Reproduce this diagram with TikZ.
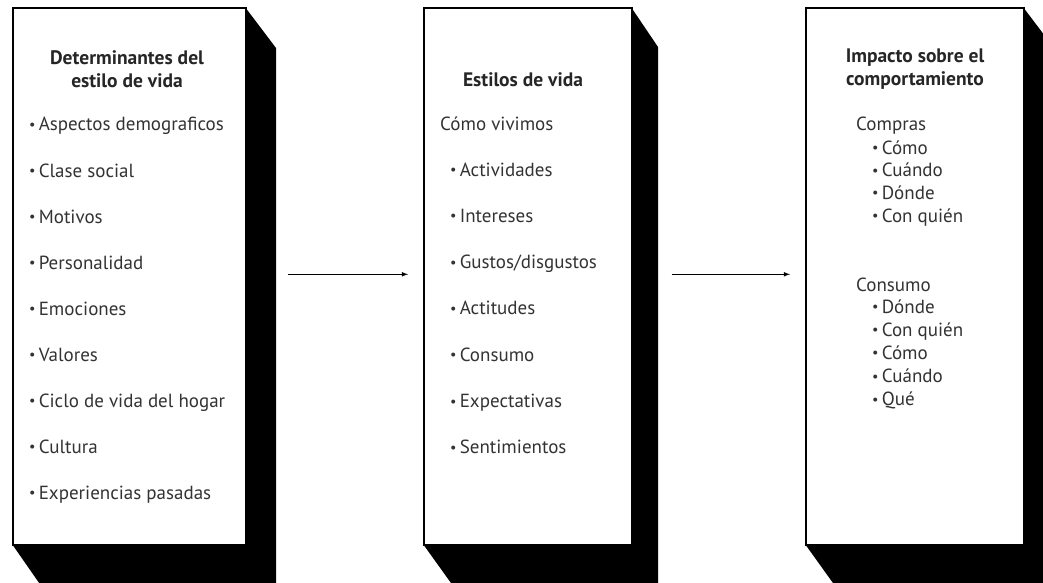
\documentclass[tikz,border=0pt]{standalone}
\usepackage{fontspec}
\setmainfont{PT Sans}
\newcommand{\bul}{\raisebox{0.15ex}{\scalebox{0.75}{\textbullet}}\,}
\begin{document}
\begin{tikzpicture}[x=1pt,y=-1pt,
  box/.style={draw=black,line width=1.6pt,fill=white,inner sep=0pt,anchor=north west},
  shade/.style={fill=black},
  ttl/.style={font=\bfseries\fontsize{19.5}{23}\selectfont,text=black!85,align=center,inner sep=0pt},
  itm/.style={font=\fontsize{19}{22}\selectfont,text=black!80,anchor=base west,inner sep=0pt},
  arr/.style={-latex,line width=1.1pt}]
\useasboundingbox (0,0) rectangle (1043,583);
\clip (0,0) rectangle (1043,583);
% box 1
\fill[shade] (245,7) -- (276,48) -- (276,590) -- (44,590) -- (12,544) -- cycle;
\node[box,minimum width=233pt,minimum height=537pt] (b1) at (12,7) {};
% box 2
\fill[shade] (631,7) -- (658,47) -- (658,590) -- (456,590) -- (423,544) -- cycle;
\node[box,minimum width=208pt,minimum height=537pt] (b2) at (423,7) {};
% box 3
\fill[shade] (1023,7) -- (1054,48) -- (1054,590) -- (838,590) -- (805,544) -- cycle;
\node[box,minimum width=218pt,minimum height=537pt] (b3) at (805,7) {};
% arrows
\draw[arr,shorten <=41pt,shorten >=15pt] ([yshift=2pt]b1.east) -- ([yshift=2pt]b2.west);
\draw[arr,shorten <=39pt,shorten >=15pt] ([yshift=2pt]b2.east) -- ([yshift=2pt]b3.west);
% texts box 1
\node[ttl] (t1) at (127,69) {Determinantes del\\estilo de vida};
\foreach \t [count=\i] in {Aspectos demograficos,Clase social,Motivos,Personalidad,Emociones,Valores,Ciclo de vida del hogar,Cultura,Experiencias pasadas}
  \node[itm] (a\i) at (29,{131+(\i-1)*46}) {\bul\t};
% texts box 2
\node[ttl] (t2) at (523,80) {Estilos de vida};
\node[itm] (cv) at (440,131) {Cómo vivimos};
\foreach \t [count=\i] in {Actividades,Intereses,Gustos/disgustos,Actitudes,Consumo,Expectativas,Sentimientos}
  \node[itm] (e\i) at (450,{176+(\i-1)*46.3}) {\bul\t};
% texts box 3
\node[ttl] (t3) at (915,69) {Impacto sobre el\\comportamiento};
\node[itm] (cp) at (856,131) {Compras};
\foreach \t [count=\i] in {Cómo,Cuándo,Dónde,Con quién}
  \node[itm] (p\i) at (872,{154+(\i-1)*22.7}) {\bul\t};
\node[itm] (cs) at (856,291) {Consumo};
\foreach \t [count=\i] in {Dónde,Con quién,Cómo,Cuándo,Qué}
  \node[itm] (q\i) at (872,{313+(\i-1)*23.2}) {\bul\t};
\end{tikzpicture}
\end{document}
